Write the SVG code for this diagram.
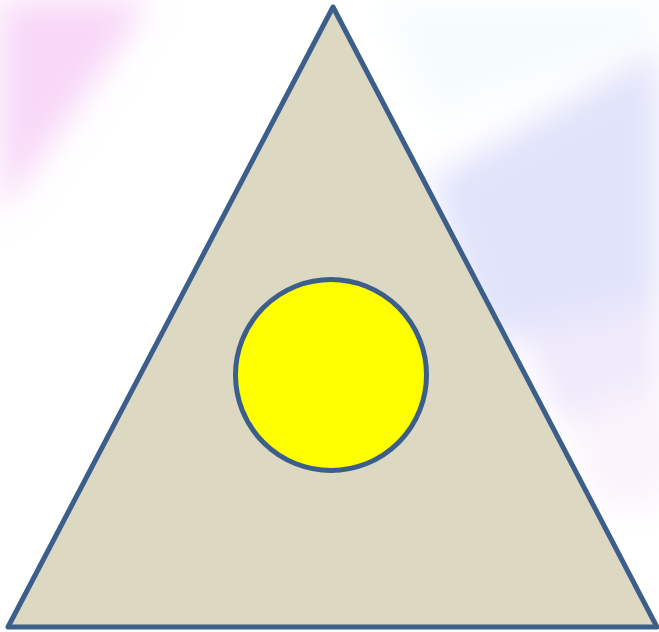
<svg xmlns="http://www.w3.org/2000/svg" width="659" height="632" viewBox="0 0 659 632">
<defs>
<filter id="blur" x="-50%" y="-50%" width="200%" height="200%"><feGaussianBlur stdDeviation="16"/></filter>
<style>
.shape{stroke:#3b5e8a;stroke-width:5;stroke-linejoin:round}
</style>
</defs>
<rect width="659" height="632" fill="#ffffff"/>
<g id="background" filter="url(#blur)">
<polygon points="0,0 150,0 110,60 0,215" fill="#f8d8f8"/>
<polygon points="659,50 659,380 480,330 430,180" fill="#e1e3fb"/>
<polygon points="659,300 659,450 560,420 520,330" fill="#efe9fb"/>
<ellipse cx="630" cy="450" rx="50" ry="60" fill="#fbf3fc"/>
<polygon points="380,0 659,0 659,40 430,120" fill="#f6fcfd"/>
</g>
<g id="triangle">
<polygon class="shape" points="333,7 8,627 657,627" fill="#dcd8c2"/>
</g>
<g id="circle">
<circle class="shape" cx="331" cy="375" r="95.5" fill="#ffff00"/>
</g>
<g id="connectors"></g>
</svg>
